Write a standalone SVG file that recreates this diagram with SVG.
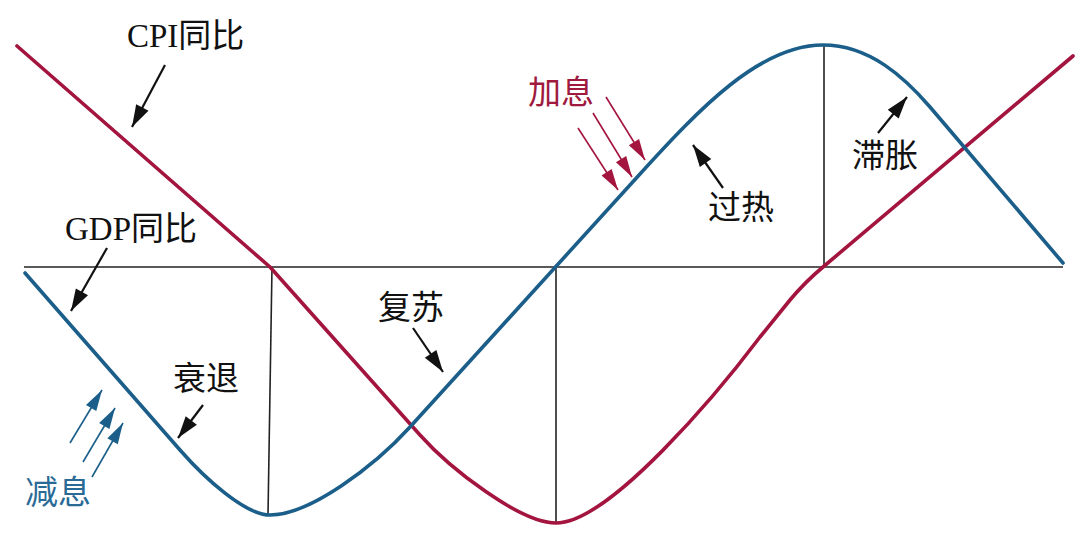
<svg xmlns="http://www.w3.org/2000/svg" width="1086" height="541" viewBox="0 0 1086 541">
<style>
.ax{stroke:#222;stroke-width:1.6;fill:none}
.gdp{stroke:#1b5e8a;stroke-width:3.6;fill:none;stroke-linejoin:round;stroke-linecap:round}
.cpi{stroke:#a3153f;stroke-width:3.6;fill:none;stroke-linejoin:round;stroke-linecap:round}
.lbl{font-family:"Liberation Serif","Noto Sans CJK SC",serif;font-size:33px;fill:#111}
.lb{fill:#2a6a96}
.lr{fill:#a01a40}
.ar{stroke:#111;stroke-width:2.2;fill:none}
.arb{stroke:#1b5e8a;stroke-width:1.6;fill:none}
.arr{stroke:#a3153f;stroke-width:1.6;fill:none}
</style>
<defs>
<marker id="hk" markerUnits="userSpaceOnUse" markerWidth="26" markerHeight="18" viewBox="-24 -9 26 18" refX="0" refY="0" orient="auto"><path d="M0,0 L-22,-7 L-22,7Z" fill="#111"/></marker>
<marker id="hb" markerUnits="userSpaceOnUse" markerWidth="24" markerHeight="16" viewBox="-22 -8 24 16" refX="0" refY="0" orient="auto"><path d="M0,0 L-21,-6 L-21,6Z" fill="#1b5e8a"/></marker>
<marker id="hr" markerUnits="userSpaceOnUse" markerWidth="24" markerHeight="16" viewBox="-22 -8 24 16" refX="0" refY="0" orient="auto"><path d="M0,0 L-21,-6 L-21,6Z" fill="#a3153f"/></marker>
</defs>
<rect width="1086" height="541" fill="#fff"/>
<g id="axes">
<path class="ax" d="M24,267 H1063"/>
<path class="ax" d="M272,267 L268,515"/>
<path class="ax" d="M556,267 V523"/>
<path class="ax" d="M824,45 V267"/>
</g>
<g id="cpi-curve">
<path class="cpi" d="M17,46 L270,267 L420,435 C450,468.6 520,523 556,523 C610,523 720,390 760,337 L790,300 Q805,282 823,267 L1073,56"/>
</g>
<g id="gdp-curve">
<path class="gdp" d="M25,273 L180,450 C205,478.5 245,515 270,515 C310,515 375,465.5 410,427 L640,174 C700,108 760,45 823,45 C870,45 905,78 930,107 L1063,263"/>
</g>
<g id="connectors">
<line class="ar" x1="165" y1="65" x2="132" y2="127" marker-end="url(#hk)"/>
<line class="ar" x1="107" y1="248" x2="71" y2="311" marker-end="url(#hk)"/>
<line class="ar" x1="203" y1="405" x2="178" y2="438" marker-end="url(#hk)"/>
<line class="ar" x1="413" y1="328" x2="443" y2="372" marker-end="url(#hk)"/>
<line class="ar" x1="723" y1="188" x2="693" y2="145" marker-end="url(#hk)"/>
<line class="ar" x1="878" y1="133" x2="907" y2="97" marker-end="url(#hk)"/>
<line class="arb" x1="70" y1="443" x2="102" y2="390" marker-end="url(#hb)"/>
<line class="arb" x1="83" y1="462" x2="115" y2="408" marker-end="url(#hb)"/>
<line class="arb" x1="92" y1="477" x2="123" y2="423" marker-end="url(#hb)"/>
<line class="arr" x1="578" y1="128" x2="618" y2="190" marker-end="url(#hr)"/>
<line class="arr" x1="593" y1="113" x2="632" y2="177" marker-end="url(#hr)"/>
<line class="arr" x1="606" y1="97" x2="645" y2="160" marker-end="url(#hr)"/>
</g>
<g id="label-cpi"><text class="lbl" x="127" y="47">CPI同比</text></g>
<g id="label-gdp"><text class="lbl" x="65" y="240">GDP同比</text></g>
<g id="label-recession"><text class="lbl" x="173" y="390">衰退</text></g>
<g id="label-cut"><text class="lbl lb" x="25" y="504">减息</text></g>
<g id="label-recovery"><text class="lbl" x="378" y="319">复苏</text></g>
<g id="label-hike"><text class="lbl lr" x="528" y="104">加息</text></g>
<g id="label-overheat"><text class="lbl" x="708" y="219">过热</text></g>
<g id="label-stagflation"><text class="lbl" x="852" y="167">滞胀</text></g>
</svg>
